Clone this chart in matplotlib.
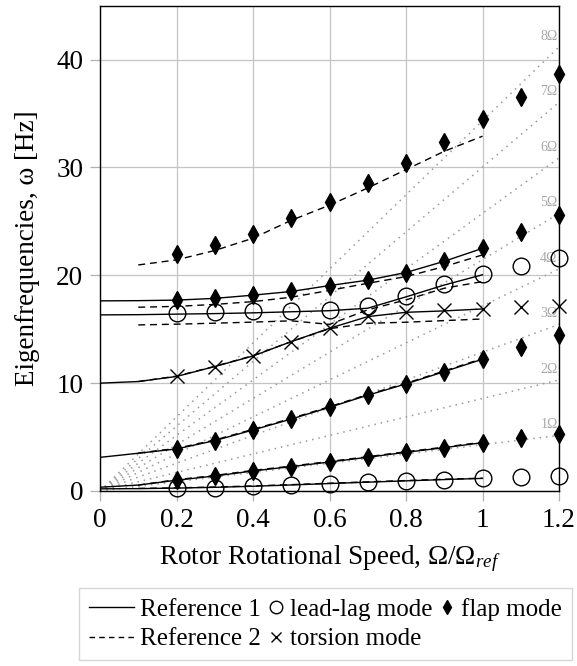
import matplotlib
matplotlib.use('Agg')
import matplotlib.pyplot as plt
from matplotlib.lines import Line2D
from matplotlib.legend_handler import HandlerLine2D

plt.rcParams['font.family'] = ['Liberation Serif', 'DejaVu Serif']
plt.rcParams['mathtext.fontset'] = 'custom'
plt.rcParams['mathtext.rm'] = 'Liberation Serif'
plt.rcParams['mathtext.it'] = 'Liberation Serif:italic'

# rotor speed where the modes were evaluated
speed = [0.2, 0.3, 0.4, 0.5, 0.6, 0.7, 0.8, 0.9, 1.0, 1.1, 1.2]
leadlag_1 = [0.25, 0.32, 0.42, 0.55, 0.68, 0.81, 0.94, 1.06, 1.17, 1.27, 1.38]
leadlag_2 = [16.5, 16.58, 16.68, 16.72, 16.82, 17.18, 18.05, 19.15, 20.08, 20.86, 21.63]
flap_1 = [1.02, 1.39, 1.86, 2.26, 2.69, 3.13, 3.59, 4.02, 4.48, 4.94, 5.32]
flap_2 = [3.88, 4.67, 5.66, 6.67, 7.76, 8.88, 9.93, 11.07, 12.22, 13.39, 14.47]
flap_3 = [17.7, 17.86, 18.16, 18.5, 19.05, 19.55, 20.26, 21.3, 22.5, 24.0, 25.6]
flap_4 = [21.98, 22.8, 23.84, 25.3, 26.84, 28.6, 30.46, 32.4, 34.48, 36.52, 38.68]
torsion_1 = [10.62, 11.54, 12.52, 13.8, 15.09, 16.2, 16.62, 16.75, 16.9, 17.02, 17.14]

# Reference 1 (solid)
ref1_speed = [0.0, 0.1, 0.2, 0.3, 0.4, 0.5, 0.6, 0.7, 0.8, 0.9, 1.0]
ref1_lag_1 = [0.2, 0.22, 0.27, 0.34, 0.44, 0.56, 0.69, 0.82, 0.94, 1.06, 1.17]
ref1_flap_1 = [0.35, 0.55, 1.0, 1.39, 1.86, 2.26, 2.69, 3.13, 3.59, 4.02, 4.48]
ref1_flap_2 = [3.12, 3.5, 3.9, 4.67, 5.66, 6.67, 7.76, 8.88, 9.93, 11.07, 12.22]
ref1_torsion = [10.0, 10.15, 10.62, 11.54, 12.52, 13.85, 15.09, 16.17, 16.57, 16.7, 16.88]
ref1_lag_2 = [16.33, 16.35, 16.4, 16.45, 16.52, 16.62, 16.72, 16.95, 18.0, 19.1, 20.05]
ref1_flap_3 = [17.63, 17.65, 17.7, 17.86, 18.16, 18.5, 19.05, 19.55, 20.26, 21.3, 22.5]

# Reference 2 (dashed)
ref2_speed = [0.1, 0.2, 0.3, 0.4, 0.5, 0.6, 0.7, 0.8, 0.9, 1.0]
ref2_lag_1 = [0.24, 0.29, 0.37, 0.47, 0.59, 0.72, 0.85, 0.97, 1.09, 1.19]
ref2_flap_1 = [0.55, 1.05, 1.44, 1.91, 2.31, 2.74, 3.18, 3.64, 4.07, 4.53]
ref2_flap_2 = [3.52, 3.95, 4.73, 5.72, 6.73, 7.82, 8.94, 9.99, 11.13, 12.28]
ref2_torsion = [10.15, 10.65, 11.56, 12.55, 13.85, 15.05, 15.55, 15.65, 15.8, 15.95]
ref2_lag_2 = [15.4, 15.47, 15.56, 15.66, 15.78, 15.45, 16.8, 17.72, 18.8, 19.42]
ref2_flap_3 = [17.04, 17.12, 17.3, 17.56, 17.97, 18.6, 19.26, 19.88, 20.81, 21.89]
ref2_flap_4 = [20.96, 21.43, 22.3, 23.44, 25.1, 26.5, 28.1, 29.8, 31.5, 32.9]

rotor_freq = 4.29  # Hz at reference speed
harmonics = [1, 2, 3, 4, 5, 6, 7, 8]

xticks = [0, 0.2, 0.4, 0.6, 0.8, 1.0, 1.2]
xtick_labels = ['0', '0.2', '0.4', '0.6', '0.8', '1', '1.2']
yticks = [0, 10, 20, 30, 40]


class NarrowMarker(HandlerLine2D):
    # marker-only entries get a short handle box
    def legend_artist(self, legend, orig_handle, fontsize, handlebox):
        handlebox.width = 0.6 * fontsize
        return super().legend_artist(legend, orig_handle, fontsize, handlebox)


fig = plt.figure(figsize=(5.77, 6.66), dpi=100)
ax = fig.add_axes([100 / 577, 1 - 491 / 666, 459 / 577, 485.3 / 666])

ax.set_xlim(0, 1.2)
ax.set_ylim(0, 45)
ax.set_xticks(xticks)
ax.set_xticklabels(xtick_labels)
ax.set_yticks(yticks)
ax.grid(True, color='#c4c4c4', lw=0.9)
ax.set_axisbelow(True)
ax.tick_params(direction='out', length=7, width=0.9, color='#b0b0b0',
               labelsize=19.5, pad=5)
for s in ax.spines.values():
    s.set_linewidth(1.0)

# n-per-rev excitation lines
for n in harmonics:
    top = n * 1.2 * rotor_freq
    ax.plot([0, 1.2], [0, top], color='#9a9a9a', lw=1.1, ls=(0, (1, 3.2)), zorder=1)
    ax.annotate(f'{n}Ω', xy=(1.2, top), xytext=(-1, 3), textcoords='offset points',
                ha='right', va='bottom', fontsize=10, color='#a8a8a8')

for ys in [ref1_lag_1, ref1_flap_1, ref1_flap_2, ref1_torsion, ref1_lag_2, ref1_flap_3]:
    ax.plot(ref1_speed, ys, color='black', lw=1.0, zorder=2)
for ys in [ref2_lag_1, ref2_flap_1, ref2_flap_2, ref2_torsion, ref2_lag_2,
           ref2_flap_3, ref2_flap_4]:
    ax.plot(ref2_speed, ys, color='black', lw=1.0, ls=(0, (5, 3.5)), zorder=2)

circ = dict(ls='none', marker='o', ms=12, mfc='none', mec='black', mew=1.0,
            clip_on=False, zorder=4)
diam = dict(ls='none', marker='d', ms=9.3, color='black', clip_on=False, zorder=4)
cross = dict(ls='none', marker='x', ms=9.5, color='black', mew=1.0,
             clip_on=False, zorder=4)

for ys in [leadlag_1, leadlag_2]:
    ax.plot(speed, ys, **circ)
for ys in [flap_1, flap_2, flap_3, flap_4]:
    ax.plot(speed, ys, **diam)
ax.plot(speed, torsion_1, **cross)

ax.set_xlabel('Rotor Rotational Speed, Ω/Ω$_{ref}$', fontsize=19.5, labelpad=8)
ax.set_ylabel('Eigenfrequencies, ω [Hz]', fontsize=19.5, labelpad=12)

handles = [
    Line2D([], [], color='black', lw=1.0),
    Line2D([], [], color='black', lw=1.0, ls=(0, (4, 3))),
    Line2D([], [], ls='none', marker='o', ms=9, mfc='none', mec='black', mew=1.0),
    Line2D([], [], ls='none', marker='x', ms=6.5, color='black', mew=1.0),
    Line2D([], [], ls='none', marker='d', ms=7.5, color='black'),
]
labels = ['Reference 1', 'Reference 2', 'lead-lag mode', 'torsion mode', 'flap mode']
hmap = {h: NarrowMarker() for h in handles[2:]}
leg = fig.legend(handles, labels, handler_map=hmap, ncol=3, fontsize=18,
                 loc='upper left', bbox_to_anchor=(79 / 577, 1 - 588 / 666),
                 borderaxespad=0, handlelength=1.8, handletextpad=0.25,
                 columnspacing=0.3, labelspacing=0.28, borderpad=0.4,
                 frameon=True, fancybox=False, edgecolor='#cccccc')
leg.get_frame().set_linewidth(1.0)

fig.savefig('out.png', dpi=100)
